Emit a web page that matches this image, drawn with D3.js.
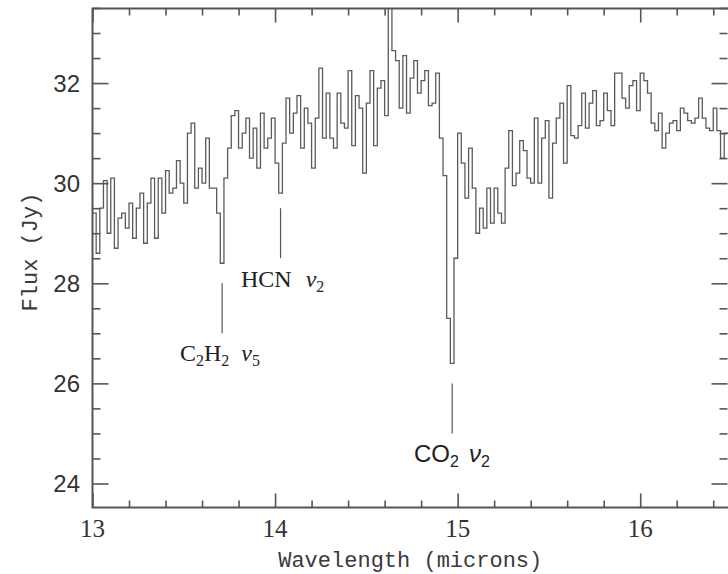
<!DOCTYPE html>
<html>
<head>
<meta charset="utf-8">
<script src="https://cdn.jsdelivr.net/npm/d3@7"></script>
<style>
  html, body { margin: 0; padding: 0; background: #fff; }
  svg { display: block; }
</style>
</head>
<body>
<svg id="chart" width="728" height="574"></svg>
<script>
// Bin edges (microns)
const wavelengthEdges = [
  13.00,13.02,13.04,13.06,13.08,13.10,13.12,13.14,13.16,13.18,
  13.20,13.22,13.24,13.26,13.28,13.30,13.32,13.34,13.36,13.38,
  13.40,13.42,13.44,13.46,13.48,13.50,13.52,13.54,13.56,13.58,
  13.60,13.62,13.64,13.66,13.68,13.70,13.72,13.74,13.76,13.78,
  13.80,13.82,13.84,13.86,13.88,13.90,13.92,13.94,13.96,13.98,
  14.00,14.02,14.04,14.06,14.08,14.10,14.12,14.14,14.16,14.18,
  14.20,14.22,14.24,14.26,14.28,14.30,14.32,14.34,14.36,14.38,
  14.40,14.42,14.44,14.46,14.48,14.50,14.52,14.54,14.56,14.58,
  14.60,14.62,14.64,14.66,14.68,14.70,14.72,14.74,14.76,14.78,
  14.80,14.82,14.84,14.86,14.88,14.90,14.92,14.94,14.96,14.98,
  15.00,15.02,15.04,15.06,15.08,15.10,15.12,15.14,15.16,15.18,
  15.20,15.22,15.24,15.26,15.28,15.30,15.32,15.34,15.36,15.38,
  15.40,15.42,15.44,15.46,15.48,15.50,15.52,15.54,15.56,15.58,
  15.60,15.62,15.64,15.66,15.68,15.70,15.72,15.74,15.76,15.78,
  15.80,15.82,15.84,15.86,15.88,15.90,15.92,15.94,15.96,15.98,
  16.00,16.02,16.04,16.06,16.08,16.10,16.12,16.14,16.16,16.18,
  16.20,16.22,16.24,16.26,16.28,16.30,16.32,16.34,16.36,16.38,
  16.40,16.42,16.44,16.46,16.48,16.50
];
// Flux per bin (Jy)
const flux = [
  29.4,28.6,29.5,30.05,29.0,30.1,28.7,29.3,29.4,29.1,
  29.6,28.9,29.5,29.8,28.8,29.6,30.1,28.9,30.1,29.4,
  30.25,29.8,29.9,30.45,30.0,29.6,31.0,31.2,29.9,30.3,
  30.0,30.9,29.9,29.9,29.4,28.4,30.1,30.7,31.35,31.45,
  30.7,31.0,31.3,30.5,31.1,30.3,31.4,30.7,30.9,31.3,
  30.4,29.8,30.8,31.7,31.0,31.4,31.75,30.7,31.5,31.2,
  30.3,31.3,32.3,30.9,31.8,30.9,30.7,31.8,31.2,31.1,
  32.25,30.75,31.75,31.5,30.2,31.6,32.25,30.75,31.9,32.05,
  31.35,33.8,32.65,32.45,31.5,32.55,31.4,32.1,32.45,31.8,
  32.05,32.25,31.55,31.6,32.2,30.9,30.15,27.3,26.4,28.5,
  31.0,30.4,29.7,30.7,29.9,29.0,29.5,29.1,29.9,29.2,
  29.9,29.4,29.2,30.3,31.05,29.95,30.2,30.85,30.65,30.1,
  30.0,31.3,30.0,30.9,31.25,29.7,30.8,31.3,31.6,30.4,
  31.95,30.95,30.9,31.15,31.8,31.1,31.6,31.85,31.15,31.25,
  31.8,31.45,31.15,32.2,32.2,31.7,31.5,31.95,32.05,31.45,
  32.2,32.05,31.8,31.2,31.05,31.4,30.7,31.0,31.2,31.25,
  31.05,31.5,31.4,31.25,31.2,31.3,31.7,31.3,31.1,31.05,
  31.5,31.05,30.5,31.0,31.0
];
const xTickValues = [13, 14, 15, 16];
const yTickValues = [24, 26, 28, 30, 32];
// Feature markers
const markerNames = ["C2H2", "HCN", "CO2"];
const markerWavelength = [13.71, 14.03, 14.97];
const markerTop = [28.0, 29.5, 26.0];
const markerBottom = [27.0, 28.5, 25.0];

(function () {
const svg = d3.select("#chart");
const pL = 92.5, pR = 731.5, pT = 8.5, pB = 507.5;
const x = d3.scaleLinear().domain([13, 16.5]).range([pL, pR]);
const y = d3.scaleLinear().domain([23.52, 33.49]).range([pB, pT]);
const axisColor = "#555";
const textColor = "#333";

svg.append("defs").append("clipPath").attr("id", "clip")
  .append("rect").attr("x", pL).attr("y", pT)
  .attr("width", pR - pL).attr("height", pB - pT);

// Spectrum
const pts = flux.map((f, i) => [wavelengthEdges[i], f]);
pts.push([wavelengthEdges[flux.length], flux[flux.length - 1]]);
const line = d3.line().x(d => x(d[0])).y(d => y(d[1])).curve(d3.curveStepAfter);
svg.append("path").attr("clip-path", "url(#clip)")
  .attr("d", line(pts)).attr("fill", "none")
  .attr("stroke", "#5a5a5a").attr("stroke-width", 1.3);

// Ticks on all sides
const xMinor = d3.range(13, 16.5001, 0.2).filter(v => Math.abs(v - Math.round(v)) > 1e-6);
const yMinor = d3.range(24, 33.5001, 0.5).filter(v => Math.abs(v / 2 - Math.round(v / 2)) > 1e-6);

function styleAxis(g) {
  g.select(".domain").remove();
  g.selectAll(".tick line").attr("stroke", axisColor).attr("stroke-width", 1.6);
}
svg.append("g").attr("transform", `translate(0,${pB})`).call(d3.axisBottom(x).tickValues(xTickValues).tickSize(-14).tickFormat("")).call(styleAxis);
svg.append("g").attr("transform", `translate(0,${pB})`).call(d3.axisBottom(x).tickValues(xMinor).tickSize(-7).tickFormat("")).call(styleAxis);
svg.append("g").attr("transform", `translate(0,${pT})`).call(d3.axisTop(x).tickValues(xTickValues).tickSize(-14).tickFormat("")).call(styleAxis);
svg.append("g").attr("transform", `translate(0,${pT})`).call(d3.axisTop(x).tickValues(xMinor).tickSize(-7).tickFormat("")).call(styleAxis);

svg.append("g").attr("transform", `translate(${pL},0)`).call(d3.axisLeft(y).tickValues(yTickValues).tickSize(-16).tickFormat("")).call(styleAxis);
svg.append("g").attr("transform", `translate(${pL},0)`).call(d3.axisLeft(y).tickValues(yMinor).tickSize(-8).tickFormat("")).call(styleAxis);
svg.append("g").attr("transform", `translate(${pR - 4},0)`).call(d3.axisRight(y).tickValues(yTickValues).tickSize(-16).tickFormat("")).call(styleAxis);
svg.append("g").attr("transform", `translate(${pR - 4},0)`).call(d3.axisRight(y).tickValues(yMinor).tickSize(-8).tickFormat("")).call(styleAxis);

// Frame
svg.append("rect").attr("x", pL).attr("y", pT)
  .attr("width", pR - pL).attr("height", pB - pT)
  .attr("fill", "none").attr("stroke", axisColor).attr("stroke-width", 2);

// Tick labels
const tickFont = "'Liberation Serif', 'DejaVu Serif', serif";
svg.append("g").selectAll("text").data(xTickValues).join("text")
  .attr("x", d => x(d)).attr("y", 537)
  .attr("text-anchor", "middle").attr("font-family", tickFont)
  .attr("font-size", 25).attr("fill", textColor).text(d => d);
svg.append("g").selectAll("text").data(yTickValues).join("text")
  .attr("x", 80).attr("y", d => y(d) + 8.5)
  .attr("text-anchor", "end").attr("font-family", "'Liberation Sans', Arial, sans-serif")
  .attr("font-size", 24).attr("fill", textColor).text(d => d);

// Axis titles
const monoFont = "'Liberation Mono', 'DejaVu Sans Mono', monospace";
svg.append("text").attr("x", (pL + 728) / 2).attr("y", 567)
  .attr("text-anchor", "middle").attr("font-family", monoFont)
  .attr("font-size", 22).attr("fill", "#3a3a3a").text("Wavelength (microns)");
svg.append("text").attr("transform", "translate(37,252) rotate(-90)")
  .attr("text-anchor", "middle").attr("font-family", monoFont)
  .attr("font-size", 22).attr("fill", "#3a3a3a").text("Flux (Jy)");

// Feature markers
svg.append("g").selectAll("line").data(markerWavelength).join("line")
  .attr("x1", d => x(d)).attr("x2", d => x(d))
  .attr("y1", (d, i) => y(markerTop[i])).attr("y2", (d, i) => y(markerBottom[i]))
  .attr("stroke", "#555").attr("stroke-width", 1.2);

const serif = "'Liberation Serif', 'DejaVu Serif', serif";
function label(xp, yp, parts, family) {
  const t = svg.append("text").attr("x", xp).attr("y", yp)
    .attr("font-family", family).attr("font-size", 24).attr("fill", "#222");
  parts.forEach(p => {
    const s = t.append("tspan").text(p.t);
    if (p.sub) s.attr("baseline-shift", "-30%").attr("font-size", 16);
    if (p.it) s.attr("font-style", "italic");
    if (p.dx) s.attr("dx", p.dx);
  });
}
label(180, 361, [{t:"C"},{t:"2",sub:true},{t:"H"},{t:"2",sub:true},{t:"ν",it:true,dx:12},{t:"5",sub:true}], serif);
label(241, 287, [{t:"HCN"},{t:"ν",it:true,dx:14},{t:"2",sub:true}], serif);
label(414, 462, [{t:"CO"},{t:"2",sub:true},{t:"ν",it:true,dx:10},{t:"2",sub:true}], "'Liberation Sans', Arial, sans-serif");
})();
</script>
</body>
</html>
